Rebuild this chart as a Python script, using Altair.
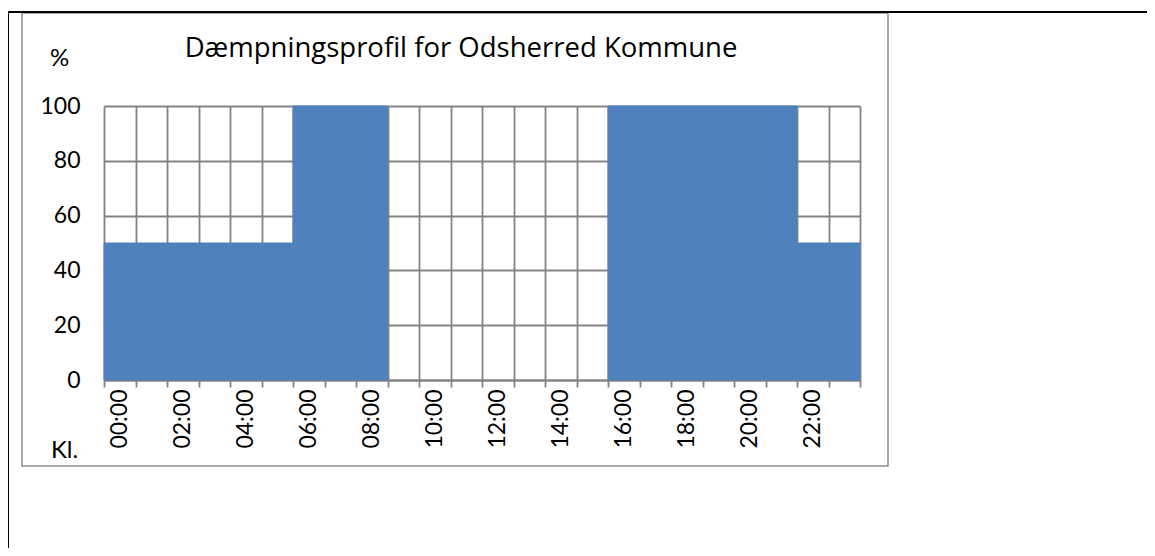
import altair as alt
import pandas as pd

hours = ["00:00", "01:00", "02:00", "03:00", "04:00", "05:00",
         "06:00", "07:00", "08:00", "09:00", "10:00", "11:00",
         "12:00", "13:00", "14:00", "15:00", "16:00", "17:00",
         "18:00", "19:00", "20:00", "21:00", "22:00", "23:00"]
values = [50, 50, 50, 50, 50, 50,
          100, 100, 100, 0, 0, 0,
          0, 0, 0, 0, 100, 100,
          100, 100, 100, 100, 50, 50]
y_ticks = [0, 20, 40, 60, 80, 100]

title_text = "Dæmpningsprofil for Odsherred Kommune"
y_title = "%"
x_title = "Kl."

FONT = "Lato"
GRID = "#838383"
BLUE = "#4F81BD"
W, H = 756, 274

df = pd.DataFrame({"hour": hours, "pct": values})
deco = pd.DataFrame({"k": [0]})

bars = alt.Chart(df).transform_filter("datum.pct > 0").mark_bar(
    color=BLUE, stroke=BLUE, strokeWidth=1
).encode(
    x=alt.X(
        "hour:N", sort=hours,
        scale=alt.Scale(domain=hours, paddingInner=0, paddingOuter=0),
        axis=alt.Axis(
            title=x_title, titleX=-40, titleY=77, titleAngle=0,
            titleAlign="center", titleBaseline="alphabetic",
            titleFont=FONT, titleFontSize=24, titleFontWeight="normal", titleColor="black",
            tickBand="extent", grid=True, gridColor=GRID, gridWidth=1.8, gridOpacity=1,
            domainColor=GRID, domainWidth=1.8, tickColor=GRID, tickWidth=1.8, tickSize=7,
            labelAngle=270, labelPadding=2,
            labelExpr="parseInt(substring(datum.label, 0, 2)) % 2 == 0 ? datum.label : ''",
            labelFont=FONT, labelFontSize=23, labelColor="black",
        ),
    ),
    y=alt.Y(
        "pct:Q",
        scale=alt.Scale(domain=[0, 100], nice=False),
        axis=alt.Axis(
            values=y_ticks, title=y_title, titleX=-45, titleY=-41, titleAngle=0,
            titleAlign="center", titleBaseline="alphabetic",
            titleFont=FONT, titleFontSize=24, titleFontWeight="normal", titleColor="black",
            ticks=False, domain=False, grid=True, gridColor=GRID, gridWidth=1.8, gridOpacity=1,
            labelPadding=24, labelFont=FONT, labelFontSize=23, labelColor="black",
        ),
    ),
)

frame = alt.Chart(deco).mark_rect(fillOpacity=0, stroke="#8c8c8c", strokeWidth=1.5).encode(
    x=alt.value(-82), x2=alt.value(784), y=alt.value(-93), y2=alt.value(360)
)
left_line = alt.Chart(deco).mark_rule(color="black", strokeWidth=2).encode(
    x=alt.value(-96), y=alt.value(-94), y2=alt.value(460)
)
top_line = alt.Chart(deco).mark_rule(color="black", strokeWidth=2).encode(
    x=alt.value(-96), x2=alt.value(1060), y=alt.value(-94)
)

chart = alt.layer(frame, left_line, top_line, bars).properties(
    width=W, height=H,
    padding={"left": 96, "top": 98, "right": 287, "bottom": 168},
    autosize=alt.AutoSizeParams(type="none"),
    title=alt.TitleParams(
        text=title_text, font="Open Sans", fontSize=27.5, fontWeight="normal", color="black",
        anchor="middle", frame="group", baseline="alphabetic", offset=0, dx=-21, dy=73,
    ),
).configure_view(stroke=None).configure(background="white")

chart.save("out.html", embed_options={"renderer": "svg", "actions": False})
